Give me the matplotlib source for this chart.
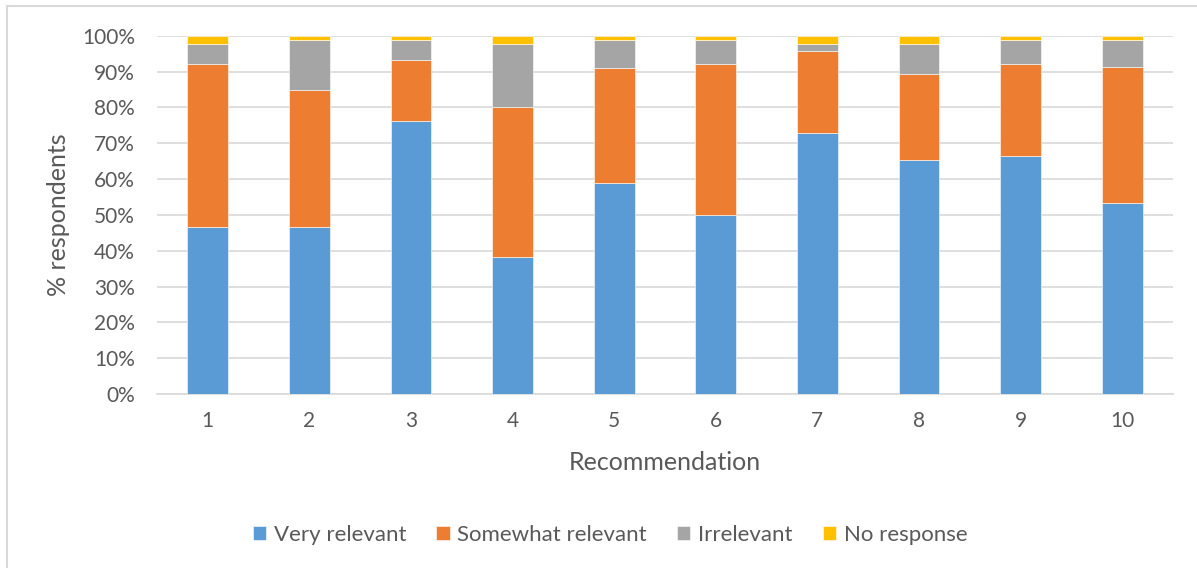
import matplotlib.pyplot as plt
from matplotlib.lines import Line2D
from matplotlib.ticker import PercentFormatter

recommendations = ["1", "2", "3", "4", "5", "6", "7", "8", "9", "10"]
very_relevant = [46.7, 46.7, 76.1, 38.1, 58.8, 50.0, 72.8, 65.2, 66.3, 53.2]
somewhat_relevant = [45.5, 38.1, 17.2, 42.0, 32.3, 42.2, 22.8, 24.0, 25.9, 38.0]
irrelevant = [5.6, 14.1, 5.6, 17.7, 7.8, 6.7, 2.2, 8.6, 6.7, 7.7]
no_response = [2.2, 1.1, 1.1, 2.2, 1.1, 1.1, 2.2, 2.2, 1.1, 1.1]

series = [
    ("Very relevant", very_relevant, "#5B9BD5"),
    ("Somewhat relevant", somewhat_relevant, "#ED7D31"),
    ("Irrelevant", irrelevant, "#A5A5A5"),
    ("No response", no_response, "#FFC000"),
]

plt.rcParams['font.family'] = ['Lato', 'DejaVu Sans']
text_col = "#595959"

fig = plt.figure(figsize=(11.97, 5.68), dpi=100)
ax = fig.add_axes([157 / 1197, 1 - 394 / 568, (1173 - 157) / 1197, (394 - 35.7) / 568])

xpos = list(range(len(recommendations)))
bottom = [0.0] * len(recommendations)
for name, vals, col in series:
    ax.bar(xpos, vals, bottom=bottom, width=0.4, color=col, label=name,
           edgecolor="white", linewidth=0.4, zorder=3)
    bottom = [b + v for b, v in zip(bottom, vals)]

ax.set_xlim(-0.5, len(recommendations) - 0.5)
ax.set_ylim(0, 100)
ax.set_yticks(range(0, 101, 10))
ax.yaxis.set_major_formatter(PercentFormatter(decimals=0))
ax.set_xticks(xpos)
ax.set_xticklabels(recommendations)
ax.grid(True, axis="y", color="#D9D9D9", linewidth=1.2, zorder=0)
for s in ["top", "right", "left"]:
    ax.spines[s].set_visible(False)
ax.spines["bottom"].set_color("#D9D9D9")
ax.spines["bottom"].set_linewidth(1.2)
ax.tick_params(length=0, labelsize=15, colors=text_col)
ax.tick_params(axis="x", pad=12)
ax.tick_params(axis="y", pad=16)

fig.text(58 / 1197, 1 - 215 / 568, "% respondents", rotation=90, ha="center",
         va="center", fontsize=18, color=text_col)
fig.text(665 / 1197, 1 - 463 / 568, "Recommendation", ha="center",
         va="center", fontsize=18, color=text_col)

fig.legend(loc="center", bbox_to_anchor=(610 / 1197, 1 - 535 / 568), ncol=4,
           frameon=False, fontsize=16, handlelength=0.6, handleheight=0.6,
           handletextpad=0.35, columnspacing=1.35, labelcolor=text_col)

# chart frame (only left/top visible in the crop)
fig.add_artist(Line2D([7 / 1197, 7 / 1197], [0, 1 - 6 / 568],
                      transform=fig.transFigure, color="#D9D9D9", lw=1.5))
fig.add_artist(Line2D([7 / 1197, 1], [1 - 6 / 568, 1 - 6 / 568],
                      transform=fig.transFigure, color="#D9D9D9", lw=1.5))

plt.savefig("out.png", dpi=100)
plt.close()
